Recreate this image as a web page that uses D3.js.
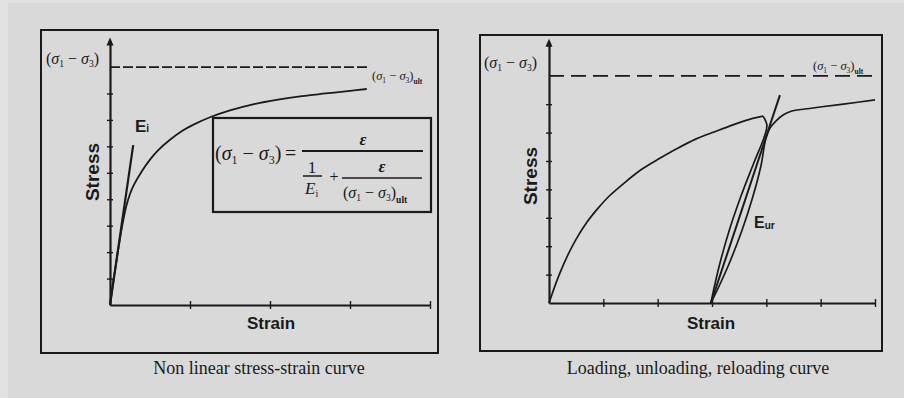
<!DOCTYPE html>
<html>
<head>
<meta charset="utf-8">
<script src="https://cdn.jsdelivr.net/npm/d3@7"></script>
<style>
  html, body { margin: 0; padding: 0; background: #d9d9d9; }
  svg { display: block; }
</style>
</head>
<body>
<svg id="chart" width="904" height="398"></svg>
<script>
// left panel - hyperbolic stress-strain curve (values in axis units)
const leftStrain = [0, 0.05, 0.1, 0.15, 0.2, 0.25, 0.3, 0.4, 0.5, 0.6, 0.75, 0.9, 1.05, 1.25, 1.5, 1.8, 2.1, 2.4, 2.7, 3.0, 3.21];
const leftStress = [0, 1.05, 2.05, 2.95, 3.7, 4.2, 4.55, 5.07, 5.5, 5.85, 6.25, 6.58, 6.83, 7.1, 7.36, 7.6, 7.77, 7.9, 8.0, 8.1, 8.17];
const tangentStrain = [0, 0.29];
const tangentStress = [0, 6.05];
const leftUlt = 9;
const leftUltEnd = 3.22;
const leftXTicks = [1, 2, 3, 4];
const leftYTicks = [1, 2, 3, 4, 5, 6, 7, 8];

// right panel - loading, unloading, reloading
const loadStrain = [0, 0.1, 0.2, 0.35, 0.5, 0.7, 0.9, 1.1, 1.4, 1.7, 2.0, 2.35, 2.7, 3.05, 3.4, 3.75, 3.94];
const loadStress = [0, 0.55, 1.05, 1.7, 2.25, 2.85, 3.33, 3.75, 4.25, 4.7, 5.05, 5.43, 5.77, 6.03, 6.28, 6.5, 6.58];
const unloadStrain = [3.94, 4.01, 3.975, 3.755, 3.527, 3.32, 3.147, 3.05, 2.98];
const unloadStress = [6.58, 6.27, 5.92, 4.86, 3.73, 2.57, 1.41, 0.634, 0];
const reloadStrain = [2.98, 3.14, 3.32, 3.554, 3.75, 3.904, 3.985, 4.068, 4.18, 4.307, 4.47, 4.71, 4.99, 5.45, 6.0];
const reloadStress = [0, 0.634, 1.41, 2.57, 3.73, 4.86, 5.74, 6.16, 6.41, 6.62, 6.76, 6.83, 6.90, 7.01, 7.15];
const eurStrain = [2.98, 4.25];
const eurStress = [0, 7.32];
const rightUlt = 8;
const rightUltEnd = 5.98;
const rightXTicks = [1, 2, 3, 4, 5, 6];
const rightYTicks = [1, 2, 3, 4, 5, 6, 7];

const ink = '#1a1a1a';
const sans = '"Liberation Sans", Arial, sans-serif';
const serif = '"Liberation Serif", serif';
const svg = d3.select('#chart');

svg.append('rect').attr('width', 904).attr('height', 398).attr('fill', '#d9d9d9');
svg.append('rect').attr('width', 8).attr('height', 398).attr('fill', '#e2e2e2');
svg.append('rect').attr('width', 904).attr('height', 3).attr('fill', '#e2e2e2');

const zip = (xs, ys) => xs.map((v, i) => ({ x: v, y: ys[i] }));

function sigmaLabel(sel, size, ult) {
  sel.style('font-family', serif).style('font-size', size + 'px').attr('fill', ink);
  sel.append('tspan').text('(');
  sel.append('tspan').attr('font-style', 'italic').text('σ');
  sel.append('tspan').attr('font-size', size * 0.6).attr('dy', size * 0.2).text('1');
  sel.append('tspan').attr('dy', -size * 0.2).text(' − ');
  sel.append('tspan').attr('font-style', 'italic').text('σ');
  sel.append('tspan').attr('font-size', size * 0.6).attr('dy', size * 0.2).text('3');
  sel.append('tspan').attr('dy', -size * 0.2).text(')');
  if (ult) sel.append('tspan').attr('font-size', size * 0.6).attr('dy', size * 0.3).attr('font-weight', 'bold').text('ult');
  return sel;
}

function drawFrame(p) {
  const g = svg.append('g');
  g.append('rect')
    .attr('x', p.box[0]).attr('y', p.box[1])
    .attr('width', p.box[2] - p.box[0]).attr('height', p.box[3] - p.box[1])
    .attr('fill', 'none').attr('stroke', ink).attr('stroke-width', 2);

  // x axis
  const xa = g.append('g')
    .attr('transform', 'translate(0,' + p.y(0) + ')')
    .call(d3.axisBottom(p.x).tickValues(p.xTicks).tickFormat('').tickSizeOuter(0));
  xa.select('.domain').attr('stroke', ink).attr('stroke-width', 2.2);
  xa.selectAll('.tick line').attr('stroke', ink).attr('stroke-width', 1.4).attr('y1', -4).attr('y2', 4);

  // y axis
  const ya = g.append('g')
    .attr('transform', 'translate(' + p.x(0) + ',0)')
    .call(d3.axisLeft(p.y).tickValues(p.yTicks).tickFormat('').tickSizeOuter(0));
  ya.select('.domain').attr('stroke', ink).attr('stroke-width', 2.2);
  ya.selectAll('.tick line').attr('stroke', ink).attr('stroke-width', 1.4).attr('x1', 3).attr('x2', -3);

  // arrow head on stress axis
  const top = p.y.range()[1];
  g.append('path')
    .attr('d', `M${p.x(0)},${top - 3} l-3.5,8 l7,0 z`)
    .attr('fill', ink);

  // ultimate stress asymptote
  g.append('line')
    .attr('x1', p.x(0)).attr('x2', p.x(p.ultEnd))
    .attr('y1', p.y(p.ult)).attr('y2', p.y(p.ult))
    .attr('stroke', ink).attr('stroke-width', 1.8)
    .attr('stroke-dasharray', p.dash);

  g.append('text')
    .attr('x', p.stressPos[0]).attr('y', p.stressPos[1])
    .attr('transform', `rotate(-90,${p.stressPos[0]},${p.stressPos[1]})`)
    .attr('text-anchor', 'middle')
    .style('font-family', sans)
    .style('font-size', '19px')
    .style('font-weight', 'bold')
    .attr('fill', ink)
    .text('Stress');

  g.append('text')
    .attr('x', p.strainPos[0]).attr('y', p.strainPos[1])
    .attr('text-anchor', 'middle')
    .style('font-family', sans)
    .style('font-size', '17px')
    .style('font-weight', 'bold')
    .attr('fill', ink)
    .text('Strain');

  g.append('text')
    .attr('x', p.captionPos[0]).attr('y', p.captionPos[1])
    .attr('text-anchor', 'middle')
    .style('font-family', serif)
    .style('font-size', '18px')
    .attr('fill', ink)
    .text(p.caption);

  sigmaLabel(g.append('text').attr('x', p.topLabel[0]).attr('y', p.topLabel[1]), 16, false);
  sigmaLabel(g.append('text').attr('x', p.ultLabel[0]).attr('y', p.ultLabel[1]), 12.5, true);
  return g;
}

// ---------- left panel ----------
const xL = d3.scaleLinear().domain([0, 4]).range([110, 430]);
const yL = d3.scaleLinear().domain([0, 10]).range([305, 40.6]);

const gL = drawFrame({
  box: [41, 30, 438, 353],
  x: xL, y: yL, xTicks: leftXTicks, yTicks: leftYTicks,
  ult: leftUlt, ultEnd: leftUltEnd, dash: '10,3',
  stressPos: [99, 172], strainPos: [271, 329],
  caption: 'Non linear stress-strain curve', captionPos: [259, 374],
  topLabel: [46, 64], ultLabel: [372, 80]
});

const lineL = d3.line().x(d => xL(d.x)).y(d => yL(d.y)).curve(d3.curveCatmullRom.alpha(0.5));

gL.append('path')
  .datum(zip(leftStrain, leftStress))
  .attr('d', lineL)
  .attr('fill', 'none').attr('stroke', ink).attr('stroke-width', 1.8);

gL.append('path')
  .datum(zip(tangentStrain, tangentStress))
  .attr('d', d3.line().x(d => xL(d.x)).y(d => yL(d.y)))
  .attr('fill', 'none').attr('stroke', ink).attr('stroke-width', 2.2);

const eiText = gL.append('text')
  .attr('x', 135).attr('y', 132)
  .style('font-family', sans)
  .style('font-size', '17px')
  .style('font-weight', 'bold')
  .attr('fill', ink);
eiText.append('tspan').text('E');
eiText.append('tspan').attr('font-size', 10).text('i');

// formula box
gL.append('rect')
  .attr('x', 213).attr('y', 118).attr('width', 218).attr('height', 94)
  .attr('fill', 'none').attr('stroke', ink).attr('stroke-width', 2.2);

sigmaLabel(gL.append('text').attr('x', 215).attr('y', 160), 20, false);
gL.append('text').attr('x', 285).attr('y', 160).style('font-family', serif).style('font-size', '20px').attr('fill', ink).text('=');
gL.append('line').attr('x1', 302).attr('x2', 423).attr('y1', 151).attr('y2', 151).attr('stroke', ink).attr('stroke-width', 1.8);
gL.append('text').attr('x', 363).attr('y', 145).attr('text-anchor', 'middle')
  .style('font-family', serif).style('font-size', '17px').style('font-style', 'italic').style('font-weight', 'bold').attr('fill', ink).text('ε');
gL.append('text').attr('x', 312).attr('y', 173).attr('text-anchor', 'middle')
  .style('font-family', serif).style('font-size', '17px').attr('fill', ink).text('1');
gL.append('line').attr('x1', 303).attr('x2', 322).attr('y1', 176).attr('y2', 176).attr('stroke', ink).attr('stroke-width', 1.5);
const eiF = gL.append('text').attr('x', 305).attr('y', 194)
  .style('font-family', serif).style('font-size', '17px').attr('fill', ink);
eiF.append('tspan').attr('font-style', 'italic').text('E');
eiF.append('tspan').attr('font-size', 10).attr('dy', 3).text('i');
gL.append('text').attr('x', 334).attr('y', 182).attr('text-anchor', 'middle')
  .style('font-family', serif).style('font-size', '16px').attr('fill', ink).text('+');
gL.append('text').attr('x', 382).attr('y', 172).attr('text-anchor', 'middle')
  .style('font-family', serif).style('font-size', '17px').style('font-style', 'italic').style('font-weight', 'bold').attr('fill', ink).text('ε');
gL.append('line').attr('x1', 342).attr('x2', 422).attr('y1', 178).attr('y2', 178).attr('stroke', ink).attr('stroke-width', 1.5);
sigmaLabel(gL.append('text').attr('x', 343).attr('y', 198), 16, true);

// ---------- right panel ----------
const xR = d3.scaleLinear().domain([0, 6]).range([549, 875]);
const yR = d3.scaleLinear().domain([0, 9.2]).range([303, 41.7]);

const gR = drawFrame({
  box: [480, 35, 882, 351],
  x: xR, y: yR, xTicks: rightXTicks, yTicks: rightYTicks,
  ult: rightUlt, ultEnd: rightUltEnd, dash: '15,7',
  stressPos: [537, 176], strainPos: [711, 329],
  caption: 'Loading, unloading, reloading curve', captionPos: [698, 374],
  topLabel: [484, 68], ultLabel: [813, 70]
});

const lineR = d3.line().x(d => xR(d.x)).y(d => yR(d.y)).curve(d3.curveCatmullRom.alpha(0.5));

[zip(loadStrain, loadStress), zip(unloadStrain, unloadStress), zip(reloadStrain, reloadStress)].forEach(s => {
  gR.append('path')
    .datum(s)
    .attr('d', lineR)
    .attr('fill', 'none').attr('stroke', ink).attr('stroke-width', 1.7);
});

gR.append('path')
  .datum(zip(eurStrain, eurStress))
  .attr('d', d3.line().x(d => xR(d.x)).y(d => yR(d.y)))
  .attr('fill', 'none').attr('stroke', ink).attr('stroke-width', 2);

const eur = gR.append('text')
  .attr('x', 754).attr('y', 228)
  .style('font-family', sans)
  .style('font-size', '16px')
  .style('font-weight', 'bold')
  .attr('fill', ink);
eur.append('tspan').text('E');
eur.append('tspan').attr('font-size', 10).attr('dy', 1).text('ur');
</script>
</body>
</html>
